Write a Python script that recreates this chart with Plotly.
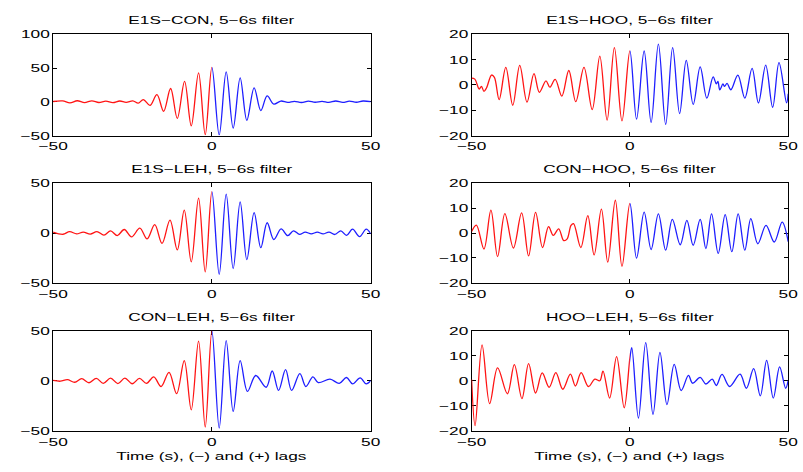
import plotly.graph_objects as go

# Cross-correlation envelopes (5-6 s band-pass), local extrema of each trace.
# Negative lags drawn red, positive lags blue.

e1s_con_lag = [-50, -47.0, -44.7, -42.4, -40.1, -37.8, -35.6, -33.4, -31.2, -29.0, -27.0, -24.9,
               -23.2, -21.6, -19.5, -17.3, -15.2, -13.0, -10.9, -8.6, -6.5, -4.2, -2.1, 0,
               2.3, 4.5, 6.7, 8.9, 11.0, 13.3, 15.4, 17.4, 19.5, 21.7, 23.9, 26.0, 28.2, 30.4,
               32.5, 34.7, 36.8, 39.0, 41.2, 43.3, 45.5, 47.6, 50]
e1s_con_val = [0.5, 1.4, -1.5, 1.6, -1.2, 1.5, -1.0, 1.0, -1.2, 1.2, -0.8, 1.5,
               -2.0, 3.4, -5.3, 10.6, -14.0, 19.7, -24.5, 30.3, -35.6, 42.8, -48.6, 51,
               -49, 44.2, -39, 35.6, -27.4, 20.7, -13, 8.7, -3.4, 1.2, -0.8, 0.8, -1.0, 1.0,
               -0.6, 0.8, -0.8, 1.2, -0.8, 1.0, -0.6, 1.2, 0.3]

e1s_hoo_lag = [-50, -49.0, -47.6, -46.9, -46.1, -45.3, -43.7, -42.8, -41.3, -39.2, -37.0, -34.8,
               -32.5, -30.3, -28.6, -26.5, -25.3, -23.6, -21.5, -19.3, -17.1, -14.5, -11.9, -9.5,
               -7.2, -4.9, -2.5, 0, 2.1, 4.5, 6.7, 9.0, 11.3, 13.5, 15.7, 17.8, 20.0, 22.2,
               24.3, 26.3, 27.3, 27.8, 28.4, 29.4, 29.9, 30.7, 31.9, 34.1, 36.3, 38.6, 40.6,
               42.9, 45.1, 47.1, 49.5, 50]
e1s_hoo_val = [2.7, 2.3, -1.6, -0.6, -2.5, -1.2, 3.9, 3.0, -5.8, 6.9, -8.0, 7.7,
               -6.8, 4.5, -2.9, 1.6, -0.9, 2.2, -4.4, 5.7, -6.6, 6.9, -9.7, 11.4,
               -13.9, 14.7, -14.2, 13.4, -13.5, 13.4, -14.8, 16.1, -15.6, 14.7, -11.3, 9.7, -7.7, 7.1,
               -5.2, 3.2, 0.4, 1.4, -1.9, 0.4, -0.6, 0.6, -1.9, 3.9, -5.2, 6.5, -7.1,
               7.8, -8.8, 8.8, -7.1, -3.5]

e1s_leh_lag = [-50, -46.9, -44.8, -42.6, -40.5, -38.3, -36.2, -34.0, -31.9, -29.8, -27.6, -25.3,
               -22.7, -20.4, -18.0, -15.7, -13.2, -10.9, -8.7, -6.5, -4.2, -2.1, 0,
               2.3, 4.5, 6.7, 8.9, 11.0, 13.3, 15.4, 17.4, 19.5, 21.8, 23.9, 25.7, 27.6, 29.4,
               31.3, 33.2, 35.0, 36.9, 38.7, 40.6, 42.4, 44.3, 46.5, 48.6, 50]
e1s_leh_val = [1.0, -1.2, 1.4, -0.8, 1.0, -1.0, 1.5, -2.0, 2.2, -2.5, 3.6, -3.9,
               4.9, -5.9, 8.5, -10.4, 13.0, -16.9, 23.1, -29.0, 35.2, -39.0, 41.7,
               -41.4, 39.1, -35.8, 31.3, -26.7, 20.5, -14.7, 10.4, -6.5, 4.2, -2.6, 2.3, -1.3, 0.9,
               -0.8, 0.9, -0.8, 1.0, -1.4, 2.3, -2.3, 3.9, -3.6, 3.9, -0.7]

con_hoo_lag = [-50, -48.5, -46.1, -43.9, -41.8, -39.5, -36.8, -34.2, -32.0, -29.8, -27.6, -25.7,
               -24.2, -22.5, -20.9, -19.8, -18.6, -17.8, -15.5, -13.3, -11.3, -9.0, -7.0, -4.6,
               -2.5, 0, 2.1, 4.5, 6.7, 9.0, 11.3, 13.4, 15.9, 18.0, 20.0, 22.2, 24.0, 25.8,
               27.9, 30.1, 32.2, 34.2, 36.3, 38.2, 40.4, 43.0, 45.6, 48.1, 50]
con_hoo_val = [0.6, 3.2, -6.4, 9.2, -9.5, 7.8, -6.0, 8.1, -9.2, 8.3, -5.8, 2.6,
               -0.9, 1.7, -3.0, -2.3, 3.1, 3.8, -5.8, 7.0, -8.8, 9.6, -11.7, 13.2,
               -13.4, 11.9, -10.1, 8.4, -6.6, 7.7, -6.9, 5.5, -4.7, 5.1, -4.9, 5.5, -6.2, 7.7,
               -8.2, 7.4, -7.5, 7.7, -6.9, 5.8, -4.3, 3.1, -3.6, 4.4, -3.4]

con_leh_lag = [-50, -47.7, -45.5, -43.2, -41.0, -38.7, -36.4, -34.2, -31.9, -29.6, -27.4, -25.1,
               -22.8, -20.6, -18.3, -16.0, -13.5, -11.1, -8.7, -6.5, -4.2, -2.1, 0,
               2.3, 4.5, 6.7, 8.9, 11.2, 13.8, 17.1, 19.0, 21.0, 23.2, 25.1, 27.7, 29.6, 31.8,
               33.5, 37.2, 40.1, 42.4, 44.3, 46.7, 48.6, 50]
con_leh_val = [0.3, -0.5, 1.0, -1.5, 2.0, -2.0, 2.3, -2.6, 2.6, -2.8, 2.6, -3.0,
               2.3, -2.6, 3.9, -5.8, 8.4, -12.9, 20.0, -29.0, 39.4, -46.1, 49.7,
               -47.1, 40.0, -30.6, 20.0, -10.6, 5.2, -6.5, 9.7, -9.7, 11.0, -9.7, 7.1, -5.8, 3.9,
               -1.9, 1.6, -2.6, 3.2, -3.2, 2.9, -3.2, 0.0]

hoo_leh_lag = [-50, -48.9, -46.7, -44.3, -41.8, -38.7, -36.5, -34.1, -32.0, -29.8, -27.7, -25.5,
               -23.4, -21.2, -18.8, -17.2, -15.4, -13.1, -11.1, -9.5, -8.5, -6.4, -4.2, -1.8, 0,
               0.6, 2.7, 5.0, 7.3, 9.5, 11.7, 14.0, 16.2, 18.5, 19.8, 22.2, 24.0, 26.0, 27.3,
               29.1, 31.5, 34.8, 36.8, 39.1, 41.2, 43.2, 45.3, 47.3, 49.2, 50]
hoo_leh_val = [0.5, -17.9, 14.3, -9.1, 5.1, -5.2, 6.4, -7.1, 6.8, -4.9, 3.1, -2.6,
               3.2, -3.4, 2.6, -2.1, 3.2, -2.3, 0.6, 0.0, 3.8, -6.9, 9.6, -10.8, 9.0,
               13.2, -14.9, 15.2, -13.4, 11.3, -9.5, 6.5, -3.9, 2.1, -1.0, 1.3, -1.3, 0.6, -1.9,
               2.5, -2.3, 2.6, -3.0, 4.8, -6.0, 8.1, -6.9, 5.5, -3.0, 0.0]

panels = [
    ("E1S\u2212CON, 5\u22126s filter", e1s_con_lag, e1s_con_val, [-50, 100], [-50, 0, 50, 100]),
    ("E1S\u2212HOO, 5\u22126s filter", e1s_hoo_lag, e1s_hoo_val, [-20, 20], [-20, -10, 0, 10, 20]),
    ("E1S\u2212LEH, 5\u22126s filter", e1s_leh_lag, e1s_leh_val, [-50, 50], [-50, 0, 50]),
    ("CON\u2212HOO, 5\u22126s filter", con_hoo_lag, con_hoo_val, [-20, 20], [-20, -10, 0, 10, 20]),
    ("CON\u2212LEH, 5\u22126s filter", con_leh_lag, con_leh_val, [-50, 50], [-50, 0, 50]),
    ("HOO\u2212LEH, 5\u22126s filter", hoo_leh_lag, hoo_leh_val, [-20, 20], [-20, -10, 0, 10, 20]),
]

x_ticks = [-50, 0, 50]
x_label = "Time (s), (\u2212) and (+) lags"

W, H = 803, 472
col_px = [(44, 368), (471, 794)]
row_px = [(29, 133), (182, 284), (333, 436)]

RED = "rgb(255,20,20)"
BLUE = "rgb(30,30,255)"
FONT = dict(family="Liberation Sans, Arial, Helvetica, sans-serif", size=11.5, color="black")

fig = go.Figure()
annotations = []
layout_axes = {}


def ax_name(kind, k):
    return f"{kind}axis" if k == 1 else f"{kind}axis{k}"


def ax_ref(kind, k):
    return kind if k == 1 else f"{kind}{k}"


for i, (title, lags, vals, yr, yt) in enumerate(panels):
    r, c = divmod(i, 2)
    n = i + 1
    x0, x1 = col_px[c][0] / W, col_px[c][1] / W
    xm = (x0 + x1) / 2
    yd = [1 - row_px[r][1] / H, 1 - row_px[r][0] / H]

    # Framed axes with ticks; a blank trace keeps the subplot registered.
    common = dict(showline=True, mirror="ticks", linecolor="black", linewidth=1,
                  ticks="inside", ticklen=4, tickcolor="black", showgrid=False,
                  zeroline=False, tickfont=FONT)
    layout_axes[ax_name("x", n)] = dict(domain=[x0, x1], anchor=ax_ref("y", n),
                                        range=[-50, 50], tickvals=x_ticks, **common)
    layout_axes[ax_name("y", n)] = dict(domain=yd, anchor=ax_ref("x", n),
                                        range=yr, tickvals=yt, **common)
    fig.add_trace(go.Scatter(x=[None], y=[None], mode="lines", xaxis=ax_ref("x", n),
                             yaxis=ax_ref("y", n), showlegend=False, hoverinfo="skip"))

    # Hidden half-width subplots: the whole trace is drawn on each and
    # clipped to the negative-lag (red) or positive-lag (blue) side.
    halves = ((6 + n, [x0, xm], [-50, 0], RED), (12 + n, [xm, x1], [0, 50], BLUE))
    for k, dom, xr, col in halves:
        layout_axes[ax_name("x", k)] = dict(domain=dom, range=xr, visible=False,
                                            anchor=ax_ref("y", k))
        layout_axes[ax_name("y", k)] = dict(domain=yd, range=yr, visible=False,
                                            anchor=ax_ref("x", k))
        fig.add_trace(go.Scatter(
            x=lags, y=vals, mode="lines",
            line=dict(color=col, width=1.3, shape="spline", smoothing=1.0),
            xaxis=ax_ref("x", k), yaxis=ax_ref("y", k), showlegend=False, hoverinfo="skip"))

    annotations.append(dict(text=title, x=xm, y=yd[1], xref="paper", yref="paper",
                            xanchor="center", yanchor="bottom", yshift=6, showarrow=False, font=FONT))
    if r == 2:
        annotations.append(dict(text=x_label, x=xm, y=1 - 462 / H,
                                xref="paper", yref="paper", xanchor="center", yanchor="middle",
                                showarrow=False, font=FONT))

fig.update_layout(width=W, height=H, margin=dict(l=0, r=0, t=0, b=0),
                  paper_bgcolor="white", plot_bgcolor="rgba(0,0,0,0)", annotations=annotations,
                  **layout_axes)

# Widen the lettering horizontally (Helvetica rendered wide).
stretch_js = """
var gd = document.getElementById('{plot_id}');
gd.querySelectorAll('svg text').forEach(function (t) {
  if (!t.textContent) return;
  var L = t.getComputedTextLength();
  if (L > 0) {
    t.setAttribute('textLength', (L * 1.5).toFixed(2));
    t.setAttribute('lengthAdjust', 'spacingAndGlyphs');
  }
});
"""

fig.write_html("out.html", post_script=stretch_js)
